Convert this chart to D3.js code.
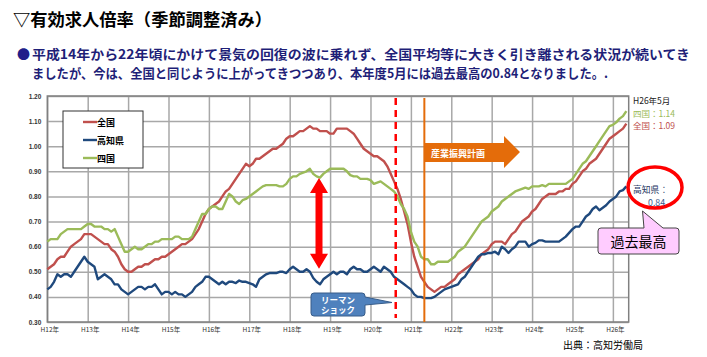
<!DOCTYPE html>
<html><head><meta charset="utf-8">
<script src="https://cdn.jsdelivr.net/npm/d3@7"></script>
<style>
body{margin:0;background:#fff;}
svg{display:block;font-family:"Noto Sans CJK JP","Noto Sans",sans-serif;}
</style>
</head><body>
<svg id="c" width="707" height="357"></svg>
<script>
// ---- data (monthly, Jan H12 (2000) .. May H26 (2014)) ----
const yearLabels = ["H12年","H13年","H14年","H15年","H16年","H17年","H18年","H19年","H20年","H21年","H22年","H23年","H24年","H25年","H26年"];
const yTicks = [0.30,0.40,0.50,0.60,0.70,0.80,0.90,1.00,1.10,1.20];
const seriesNames = ["全国","高知県","四国"];
const seriesColors = ["#C0504D","#1F497D","#9BBB59"];

const zenkoku = [
0.51,0.52,0.53,0.55,0.56,0.56,0.58,0.60,0.61,0.62,0.63,0.65,
0.65,0.65,0.64,0.63,0.62,0.61,0.61,0.59,0.58,0.56,0.53,0.51,
0.50,0.50,0.51,0.52,0.52,0.53,0.53,0.54,0.55,0.55,0.56,0.56,
0.57,0.58,0.59,0.60,0.61,0.61,0.62,0.63,0.65,0.67,0.70,0.73,
0.75,0.76,0.77,0.78,0.80,0.82,0.83,0.85,0.87,0.89,0.91,0.93,
0.92,0.93,0.95,0.95,0.96,0.97,0.98,0.99,0.99,1.00,1.01,1.03,
1.04,1.04,1.05,1.06,1.06,1.07,1.08,1.07,1.07,1.06,1.06,1.06,
1.05,1.05,1.07,1.07,1.07,1.07,1.06,1.05,1.03,1.01,0.99,0.98,
0.97,0.96,0.96,0.95,0.94,0.92,0.89,0.86,0.83,0.79,0.74,0.69,
0.62,0.56,0.52,0.48,0.46,0.44,0.43,0.42,0.43,0.44,0.44,0.45,
0.46,0.47,0.49,0.50,0.51,0.52,0.53,0.54,0.55,0.57,0.58,0.59,
0.61,0.62,0.62,0.62,0.61,0.63,0.65,0.66,0.68,0.70,0.71,0.72,
0.74,0.75,0.77,0.79,0.80,0.81,0.81,0.81,0.82,0.82,0.83,0.83,
0.85,0.86,0.88,0.90,0.91,0.93,0.94,0.95,0.97,0.99,1.01,1.03,
1.04,1.05,1.06,1.07,1.09];

const kochi = [
0.43,0.44,0.46,0.49,0.48,0.49,0.49,0.48,0.50,0.52,0.54,0.56,
0.54,0.53,0.52,0.47,0.48,0.49,0.48,0.47,0.45,0.45,0.43,0.42,
0.41,0.42,0.43,0.44,0.44,0.43,0.44,0.44,0.45,0.43,0.41,0.42,
0.42,0.41,0.42,0.41,0.41,0.40,0.41,0.42,0.44,0.45,0.46,0.48,
0.48,0.47,0.46,0.45,0.46,0.45,0.46,0.46,0.455,0.465,0.46,0.46,
0.455,0.45,0.44,0.47,0.48,0.49,0.495,0.495,0.495,0.50,0.50,0.495,
0.51,0.52,0.51,0.50,0.50,0.51,0.50,0.475,0.46,0.45,0.47,0.48,
0.49,0.50,0.49,0.50,0.50,0.49,0.51,0.52,0.51,0.51,0.50,0.50,
0.51,0.52,0.51,0.50,0.52,0.51,0.50,0.48,0.47,0.46,0.45,0.44,
0.43,0.41,0.40,0.40,0.395,0.395,0.395,0.40,0.41,0.42,0.43,0.435,
0.44,0.445,0.45,0.47,0.48,0.50,0.52,0.54,0.56,0.57,0.57,0.575,
0.575,0.58,0.57,0.60,0.59,0.575,0.59,0.60,0.62,0.62,0.62,0.60,
0.61,0.615,0.625,0.625,0.62,0.62,0.62,0.62,0.62,0.63,0.64,0.655,
0.67,0.68,0.68,0.70,0.72,0.73,0.75,0.76,0.745,0.755,0.765,0.78,
0.79,0.80,0.82,0.825,0.84];

const shikoku = [
0.62,0.63,0.63,0.63,0.65,0.66,0.67,0.67,0.67,0.67,0.67,0.68,
0.69,0.69,0.68,0.68,0.68,0.67,0.67,0.66,0.67,0.64,0.61,0.58,
0.58,0.59,0.60,0.59,0.59,0.60,0.61,0.61,0.62,0.62,0.63,0.63,
0.63,0.63,0.64,0.64,0.63,0.63,0.63,0.64,0.67,0.70,0.73,0.73,
0.75,0.76,0.76,0.75,0.75,0.78,0.81,0.80,0.78,0.77,0.785,0.79,
0.80,0.81,0.82,0.83,0.84,0.845,0.845,0.845,0.845,0.84,0.84,0.85,
0.87,0.88,0.88,0.89,0.895,0.90,0.91,0.89,0.88,0.875,0.89,0.90,
0.91,0.91,0.91,0.91,0.91,0.90,0.885,0.88,0.88,0.87,0.87,0.87,
0.865,0.85,0.855,0.86,0.85,0.84,0.83,0.82,0.80,0.77,0.75,0.72,
0.66,0.62,0.60,0.56,0.55,0.55,0.53,0.53,0.54,0.54,0.54,0.54,
0.55,0.56,0.58,0.59,0.60,0.62,0.64,0.66,0.68,0.70,0.71,0.72,
0.74,0.75,0.76,0.78,0.79,0.80,0.81,0.82,0.825,0.83,0.835,0.83,
0.84,0.84,0.84,0.845,0.84,0.85,0.85,0.85,0.85,0.85,0.85,0.86,
0.87,0.89,0.91,0.93,0.94,0.96,0.98,1.00,1.02,1.04,1.06,1.08,
1.085,1.095,1.11,1.12,1.14];

const eventMonths = [103.5, 112];   // リーマンショック (dashed), 産業振興計画 start

// ---- layout ----
const svg = d3.select("#c");
const L = 47.3, R = 628.7, T = 96, B = 322;
const x = d3.scaleLinear().domain([0, 172.7]).range([L, R]);
const y = d3.scaleLinear().domain([0.30, 1.20]).range([B, T]);

// title
svg.append("text").attr("x",13).attr("y",26).attr("font-size",17).attr("font-weight","bold")
  .attr("fill","#000").attr("textLength",259).attr("lengthAdjust","spacingAndGlyphs")
  .text("▽有効求人倍率（季節調整済み）");

// paragraph
svg.append("text").attr("x",17).attr("y",59).attr("font-size",13).attr("fill","#1f1f8a").text("●");
svg.append("text").attr("x",32).attr("y",59).attr("font-size",13).attr("font-weight","bold")
  .attr("fill","#1f1f78").attr("textLength",658).attr("lengthAdjust","spacingAndGlyphs")
  .text("平成14年から22年頃にかけて景気の回復の波に乗れず、全国平均等に大きく引き離される状況が続いてき");
svg.append("text").attr("x",32).attr("y",78).attr("font-size",13).attr("font-weight","bold")
  .attr("fill","#1f1f78").attr("textLength",576).attr("lengthAdjust","spacingAndGlyphs")
  .text("ましたが、今は、全国と同じように上がってきつつあり、本年度5月には過去最高の0.84となりました。.");

// grid + axes
const gx = svg.append("g").attr("transform",`translate(0,${B})`)
  .call(d3.axisBottom(x).tickValues(yearLabels.map((d,i)=>i*12)).tickSize(-(B-T)).tickPadding(5)
    .tickFormat((d,i)=>yearLabels[i]));
gx.select(".domain").remove();
gx.selectAll(".tick line").attr("stroke","#a8a8a8").attr("stroke-width",1.5);
gx.selectAll(".tick text").attr("font-size",6.5).attr("fill","#333").attr("dx",2).attr("font-family","Noto Sans CJK JP");

const gy = svg.append("g").attr("transform",`translate(${L},0)`)
  .call(d3.axisLeft(y).tickValues(yTicks).tickSize(-(R-L)).tickPadding(6).tickFormat(d3.format(".2f")));
gy.select(".domain").remove();
gy.selectAll(".tick line").attr("stroke","#a8a8a8").attr("stroke-width",1.5);
gy.selectAll(".tick text").attr("font-size",6.5).attr("fill","#333").attr("font-weight","bold");

svg.append("rect").attr("x",L).attr("y",T).attr("width",R-L).attr("height",B-T)
  .attr("fill","none").attr("stroke","#808080").attr("stroke-width",1.5);

// series lines
const line = d3.line().x((d,i)=>x(i)).y(d=>y(d));
[zenkoku,kochi,shikoku].forEach((s,k)=>{
  svg.append("path").datum(s).attr("d",line).attr("fill","none")
    .attr("stroke",seriesColors[k]).attr("stroke-width",2.4).attr("stroke-linejoin","round");
});

// event lines
svg.append("line").attr("x1",x(eventMonths[0])).attr("x2",x(eventMonths[0])).attr("y1",T+2).attr("y2",B-4)
  .attr("stroke","#FF0000").attr("stroke-width",2.5).attr("stroke-dasharray","7,5");
svg.append("line").attr("x1",x(eventMonths[1])).attr("x2",x(eventMonths[1])).attr("y1",T+2).attr("y2",B)
  .attr("stroke","#E46C0A").attr("stroke-width",2);

// orange arrow 産業振興計画
const ax0 = x(eventMonths[1]);
svg.append("path").attr("d",`M${ax0},143 L504,143 L504,136 L520,152 L504,168 L504,162 L${ax0},162 Z`)
  .attr("fill","#E46C0A");
svg.append("text").attr("x",458).attr("y",156.5).attr("text-anchor","middle").attr("font-size",9)
  .attr("font-weight","bold").attr("fill","#fff").text("産業振興計画");

// red double arrow
const axr = 319, yt = y(0.873), yb = y(0.512);
svg.append("path").attr("d",`M${axr},${yt} L${axr+9},${yt+15} L${axr+3.5},${yt+15} L${axr+3.5},${yb-15} L${axr+9},${yb-15} L${axr},${yb} L${axr-9},${yb-15} L${axr-3.5},${yb-15} L${axr-3.5},${yt+15} L${axr-9},${yt+15} Z`)
  .attr("fill","#FF0000");

// legend
const lg = svg.append("g");
lg.append("rect").attr("x",63).attr("y",111).attr("width",80).attr("height",57)
  .attr("fill","#fff").attr("stroke","#333").attr("stroke-width",1);
seriesNames.forEach((n,i)=>{
  const yy = 122 + i*18;
  lg.append("line").attr("x1",83).attr("x2",97).attr("y1",yy).attr("y2",yy)
    .attr("stroke",seriesColors[i]).attr("stroke-width",2.4);
  lg.append("text").attr("x",97).attr("y",yy+3.5).attr("font-size",9).attr("font-weight","bold")
    .attr("fill","#000").text(n);
});

// Lehman callout
svg.append("path").attr("d","M314,293 L362,293 Q365,293 365,296 L365,297 L392,302.5 L365,305 L365,313 Q365,316 362,316 L314,316 Q311,316 311,313 L311,296 Q311,293 314,293 Z")
  .attr("fill","#4F81BD").attr("stroke","#385D8A").attr("stroke-width",1);
svg.append("text").attr("x",338).attr("y",302.5).attr("text-anchor","middle").attr("font-size",8.5)
  .attr("font-weight","bold").attr("fill","#fff").text("リーマン");
svg.append("text").attr("x",338).attr("y",313).attr("text-anchor","middle").attr("font-size",8.5)
  .attr("font-weight","bold").attr("fill","#fff").text("ショック");

// right annotations
svg.append("text").attr("x",633).attr("y",104).attr("font-size",8.5).attr("fill","#1a1a1a").text("H26年5月");
svg.append("text").attr("x",633).attr("y",116.7).attr("font-size",8.5).attr("fill","#9BBB59").text("四国：1.14");
svg.append("text").attr("x",633).attr("y",129.4).attr("font-size",8.5).attr("fill","#C0504D").text("全国：1.09");

svg.append("ellipse").attr("cx",655).attr("cy",187.5).attr("rx",27).attr("ry",20.5)
  .attr("fill","none").attr("stroke","#FF0000").attr("stroke-width",3.5);
svg.append("text").attr("x",633).attr("y",193).attr("font-size",8.8).attr("fill","#1F3864").text("高知県：");
svg.append("text").attr("x",648).attr("y",206).attr("font-size",8.8).attr("fill","#3a5a8c").text("0.84");

svg.append("path").attr("d","M601,228 L644,228 L642.5,211 L663,228 L676,228 Q679,228 679,231 L679,251 Q679,254 676,254 L601,254 Q598,254 598,251 L598,231 Q598,228 601,228 Z")
  .attr("fill","#FFCCFF").attr("stroke","#444").attr("stroke-width",1);
svg.append("text").attr("x",638.5).attr("y",246.5).attr("text-anchor","middle").attr("font-size",14)
  .attr("fill","#000").text("過去最高");

// source
svg.append("text").attr("x",563).attr("y",349).attr("font-size",10).attr("fill","#000").text("出典：高知労働局");
</script>
</body></html>
